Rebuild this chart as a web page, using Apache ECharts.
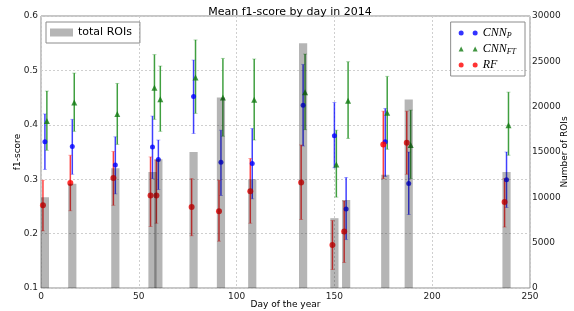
<!DOCTYPE html>
<html>
<head>
<meta charset="utf-8">
<script src="https://cdn.jsdelivr.net/npm/echarts@6/dist/echarts.min.js"></script>
<style>
  html, body { margin: 0; padding: 0; background: #fff; }
  #chart { width: 574px; height: 311px; }
</style>
</head>
<body>
<div id="chart"></div>
<script>
// day of the year for each group (CNN_P sits on the day, RF one day before, CNN_FT one day after)
const days = [2, 16, 38, 57, 60, 78, 92, 108, 134, 150, 156, 176, 188, 238];
const totalRois = [10000, 11500, 13200, 12800, 14200, 15000, 21000, 12000, 27000, 7700, 9700, 12500, 20800, 12800];

const cnnP = [0.369, 0.360, 0.326, 0.359, 0.336, 0.452, 0.331, 0.329, 0.436, 0.380, 0.245, 0.369, 0.292, 0.299];
const cnnPLow = [0.318, 0.309, 0.273, 0.301, 0.281, 0.384, 0.270, 0.264, 0.361, 0.321, 0.189, 0.305, 0.235, 0.248];
const cnnPHigh = [0.420, 0.410, 0.378, 0.416, 0.372, 0.519, 0.390, 0.393, 0.511, 0.441, 0.303, 0.430, 0.350, 0.350];

const cnnFT = [0.407, 0.441, 0.420, 0.468, 0.447, 0.487, 0.450, 0.446, 0.460, 0.327, 0.444, 0.422, 0.363, 0.399];
const cnnFTLow = [0.353, 0.388, 0.364, 0.410, 0.388, 0.421, 0.379, 0.372, 0.391, 0.267, 0.375, 0.355, 0.301, 0.344];
const cnnFTHigh = [0.462, 0.495, 0.476, 0.529, 0.508, 0.556, 0.522, 0.521, 0.530, 0.390, 0.516, 0.489, 0.427, 0.460];

const rf = [0.252, 0.293, 0.302, 0.270, 0.270, 0.249, 0.241, 0.278, 0.294, 0.179, 0.204, 0.364, 0.367, 0.258];
const rfLow = [0.205, 0.242, 0.252, 0.213, 0.219, 0.196, 0.186, 0.219, 0.226, 0.134, 0.147, 0.301, 0.309, 0.212];
const rfHigh = [0.298, 0.344, 0.351, 0.341, 0.335, 0.301, 0.298, 0.338, 0.363, 0.224, 0.260, 0.425, 0.425, 0.301];

const f1Ticks = {min: 0.1, max: 0.6, interval: 0.1};
const roiTicks = {min: 0, max: 30000, interval: 5000};
const dayTicks = {min: 0, max: 250, interval: 50};

const shift = {rf: -1, p: 0, ft: 1};
const barDays = 4.2;   // bar width in days
const barFill = 'rgba(0,0,0,0.29)';

const chart = echarts.init(document.getElementById('chart'));

function points(vals, dx) {
  return vals.map((v, i) => [days[i] + dx, v]);
}
function errs(lo, hi, dx) {
  return lo.map((v, i) => [days[i] + dx, v, hi[i]]);
}
function errRender(color) {
  return function (params, api) {
    const x = api.value(0);
    const a = api.coord([x, api.value(1)]);
    const b = api.coord([x, api.value(2)]);
    const cap = 2;
    return {
      type: 'group',
      children: [
        {type: 'line', shape: {x1: a[0], y1: a[1], x2: b[0], y2: b[1]},
          style: {stroke: color, lineWidth: 1.5, opacity: 0.75}},
        {type: 'line', shape: {x1: a[0] - cap, y1: a[1], x2: a[0] + cap, y2: a[1]},
          style: {stroke: color, lineWidth: 1, opacity: 0.3}},
        {type: 'line', shape: {x1: b[0] - cap, y1: b[1], x2: b[0] + cap, y2: b[1]},
          style: {stroke: color, lineWidth: 1, opacity: 0.3}}
      ]
    };
  };
}
// bars drawn as rects so that overlapping days keep their full width
function barRender(params, api) {
  const x = api.value(0);
  const top = api.coord([x, api.value(1)]);
  const base = api.coord([x, 0]);
  const w = api.size([barDays, 0])[0];
  return {
    type: 'rect',
    shape: {x: top[0] - w / 2, y: top[1], width: w, height: base[1] - top[1]},
    style: {fill: barFill}
  };
}

const twoDots = 'path://M0,2.5A2.5,2.5 0 1,1 5,2.5A2.5,2.5 0 1,1 0,2.5Z M14,2.5A2.5,2.5 0 1,1 19,2.5A2.5,2.5 0 1,1 14,2.5Z';
const twoTris = 'path://M0,5L2.5,0L5,5Z M14,5L16.5,0L19,5Z';

const tickLabel = {color: '#222', fontSize: 9, fontFamily: 'DejaVu Sans'};
const dashed = {show: true, lineStyle: {color: '#cfcfcf', type: [2, 2], width: 1}};

chart.setOption({
  animation: false,
  textStyle: {fontFamily: 'DejaVu Sans'},
  title: {
    text: 'Mean f1-score by day in 2014',
    left: 285, textAlign: 'center', top: 2,
    textStyle: {fontSize: 11, fontWeight: 'normal', color: '#000', fontFamily: 'DejaVu Sans'}
  },
  grid: {left: 41, right: 44, top: 16, bottom: 23, outerBoundsMode: 'none',
    show: true, borderColor: '#8c8c8c', borderWidth: 1},
  legend: [
    {
      data: [{name: 'total ROIs', icon: 'rect'}],
      left: 46, top: 22,
      itemWidth: 23, itemHeight: 8,
      padding: [5, 8, 5, 4],
      borderColor: '#8c8c8c', borderWidth: 1,
      textStyle: {fontSize: 11, color: '#000', fontFamily: 'DejaVu Sans'}
    },
    {
      data: [
        {name: 'CNN_P', icon: twoDots},
        {name: 'CNN_FT', icon: twoTris},
        {name: 'RF', icon: twoDots}
      ],
      right: 49, top: 22, orient: 'vertical',
      itemWidth: 19, itemHeight: 5, itemGap: 3,
      padding: [5, 9, 5, 8],
      borderColor: '#8c8c8c', borderWidth: 1,
      formatter: function (name) {
        if (name === 'CNN_P') return '{m|CNN}{s|P}';
        if (name === 'CNN_FT') return '{m|CNN}{s|FT}';
        return '{m|RF}';
      },
      textStyle: {
        color: '#000',
        rich: {
          m: {fontFamily: 'Liberation Serif', fontStyle: 'italic', fontSize: 12, color: '#000', lineHeight: 14},
          s: {fontFamily: 'Liberation Serif', fontStyle: 'italic', fontSize: 8, color: '#000', verticalAlign: 'bottom', lineHeight: 14, padding: [5, 0, 0, 0]}
        }
      }
    }
  ],
  xAxis: {
    type: 'value', min: dayTicks.min, max: dayTicks.max, interval: dayTicks.interval,
    name: 'Day of the year', nameLocation: 'middle', nameGap: 12, nameMoveOverlap: false,
    nameTextStyle: {fontSize: 9, color: '#000'},
    axisLine: {show: false}, axisTick: {show: false},
    axisLabel: Object.assign({margin: 4}, tickLabel),
    splitLine: dashed
  },
  yAxis: [
    {
      type: 'value', min: f1Ticks.min, max: f1Ticks.max, interval: f1Ticks.interval,
      name: 'f1-score', nameLocation: 'middle', nameGap: 19, nameRotate: 90, nameMoveOverlap: false,
      nameTextStyle: {fontSize: 9, color: '#000'},
      axisLine: {show: false}, axisTick: {show: false},
      axisLabel: Object.assign({margin: 3, formatter: v => v.toFixed(1)}, tickLabel),
      splitLine: dashed
    },
    {
      type: 'value', min: roiTicks.min, max: roiTicks.max, interval: roiTicks.interval,
      position: 'right',
      name: 'Number of ROIs', nameLocation: 'middle', nameGap: 30, nameRotate: 90, nameMoveOverlap: false,
      nameTextStyle: {fontSize: 9, color: '#000'},
      axisLine: {show: false}, axisTick: {show: false},
      axisLabel: Object.assign({margin: 2, formatter: v => String(v)}, tickLabel),
      splitLine: {show: false}
    }
  ],
  series: [
    {name: 'CNN_P err', type: 'custom', renderItem: errRender('#0000ff'), data: errs(cnnPLow, cnnPHigh, shift.p), z: 2, silent: true},
    {name: 'CNN_FT err', type: 'custom', renderItem: errRender('#008000'), data: errs(cnnFTLow, cnnFTHigh, shift.ft), z: 2, silent: true},
    {name: 'RF err', type: 'custom', renderItem: errRender('#ff0000'), data: errs(rfLow, rfHigh, shift.rf), z: 2, silent: true},
    {name: 'CNN_P', type: 'scatter', symbol: 'circle', symbolSize: 5,
      itemStyle: {color: '#0000ff'}, data: points(cnnP, shift.p), z: 3},
    {name: 'CNN_FT', type: 'scatter', symbol: 'triangle', symbolSize: 6,
      itemStyle: {color: '#117a11'}, data: points(cnnFT, shift.ft), z: 3},
    {name: 'RF', type: 'scatter', symbol: 'circle', symbolSize: 6,
      itemStyle: {color: '#ff0000'}, data: points(rf, shift.rf), z: 3},
    {name: 'total ROIs', type: 'custom', yAxisIndex: 1, renderItem: barRender, clip: true,
      itemStyle: {color: barFill}, encode: {x: 0, y: 1},
      data: totalRois.map((v, i) => [days[i], v]), z: 4, silent: true}
  ]
});
</script>
</body>
</html>
